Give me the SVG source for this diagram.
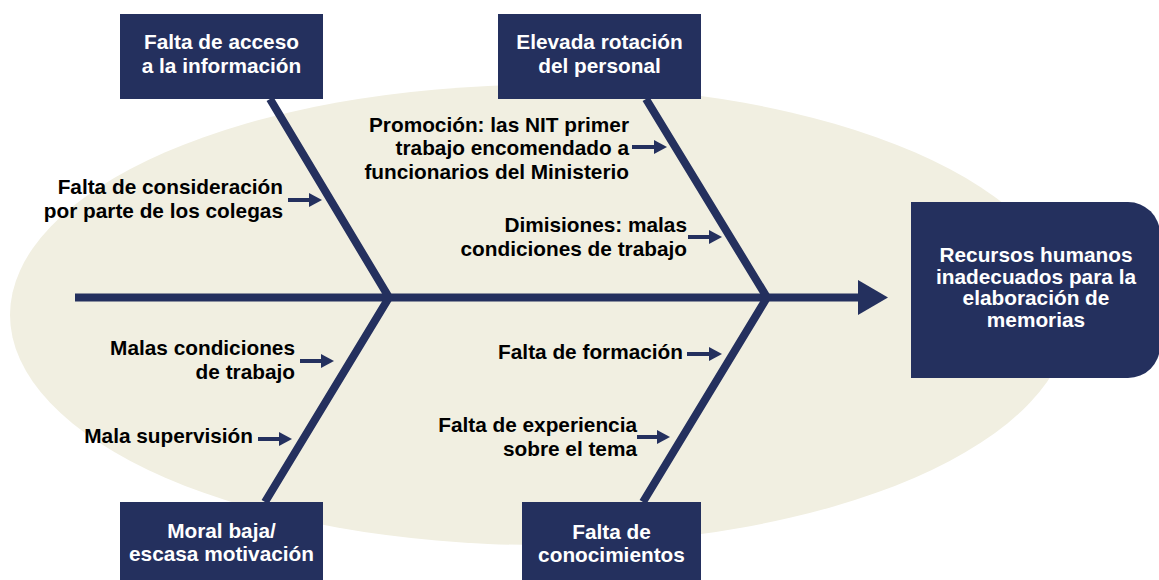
<svg xmlns="http://www.w3.org/2000/svg" width="1159" height="580" viewBox="0 0 1159 580">
  <style>
    .box { fill: #24305E; }
    .bt { font-family: "Liberation Sans", Arial, sans-serif; font-weight: bold; font-size: 20.8px; fill: #FFFFFF; text-anchor: middle; }
    .lb { font-family: "Liberation Sans", Arial, sans-serif; font-weight: bold; font-size: 20.8px; fill: #000000; text-anchor: end; }
    .bone { fill: none; stroke: #24305E; stroke-width: 8; stroke-linejoin: miter; stroke-miterlimit: 10; }
    .sm { stroke: #24305E; stroke-width: 4; marker-end: url(#ah); }
  </style>
  <defs>
    <marker id="ah" markerUnits="userSpaceOnUse" markerWidth="14" markerHeight="15" refX="0" refY="7" orient="auto" viewBox="0 0 14 14">
      <path d="M0,0 L13,7 L0,14 Z" fill="#24305E"/>
    </marker>
  </defs>
  <rect width="1159" height="580" fill="#FFFFFF"/>
  <ellipse cx="540" cy="315" rx="530" ry="230" fill="#F1EFE1"/>

  <g id="connectors">
    <line x1="75" y1="297.5" x2="860" y2="297.5" stroke="#24305E" stroke-width="8"/>
    <polygon points="858,280 888,297.5 858,315" fill="#24305E"/>
    <polyline class="bone" points="270,99 389,297.5 265,502"/>
    <polyline class="bone" points="646,99 767,297.5 643,502"/>
    <line class="sm" x1="288" y1="200" x2="309" y2="200"/>
    <line class="sm" x1="632" y1="147" x2="654" y2="147"/>
    <line class="sm" x1="688" y1="237" x2="709" y2="237"/>
    <line class="sm" x1="300" y1="361" x2="321" y2="361"/>
    <line class="sm" x1="258" y1="439" x2="279" y2="439"/>
    <line class="sm" x1="687" y1="354" x2="709" y2="354"/>
    <line class="sm" x1="637" y1="437" x2="657" y2="437"/>
  </g>

  <g id="node-acceso">
    <rect class="box" x="120" y="14" width="203" height="85"/>
    <text class="bt" x="221.5" y="49">Falta de acceso</text>
    <text class="bt" x="221.5" y="73">a la información</text>
  </g>
  <g id="node-rotacion">
    <rect class="box" x="498" y="14" width="203" height="85"/>
    <text class="bt" x="599.5" y="49">Elevada rotación</text>
    <text class="bt" x="599.5" y="73">del personal</text>
  </g>
  <g id="node-moral">
    <rect class="box" x="120" y="502" width="203" height="80"/>
    <text class="bt" x="221.5" y="538">Moral baja/</text>
    <text class="bt" x="221.5" y="561">escasa motivación</text>
  </g>
  <g id="node-conocimientos">
    <rect class="box" x="522" y="502" width="179" height="80"/>
    <text class="bt" x="611.5" y="539">Falta de</text>
    <text class="bt" x="611.5" y="562">conocimientos</text>
  </g>
  <g id="node-efecto">
    <path class="box" d="M911,202 H1128 A32,32 0 0 1 1160,234 V346 A32,32 0 0 1 1128,378 H911 Z"/>
    <text class="bt" x="1036" y="262">Recursos humanos</text>
    <text class="bt" x="1036" y="284">inadecuados para la</text>
    <text class="bt" x="1036" y="305">elaboración de</text>
    <text class="bt" x="1036" y="327">memorias</text>
  </g>

  <g id="label-consideracion">
    <text class="lb" x="283" y="194">Falta de consideración</text>
    <text class="lb" x="283" y="218">por parte de los colegas</text>
  </g>
  <g id="label-promocion">
    <text class="lb" x="629" y="132">Promoción: las NIT primer</text>
    <text class="lb" x="629" y="155">trabajo encomendado a</text>
    <text class="lb" x="629" y="179">funcionarios del Ministerio</text>
  </g>
  <g id="label-dimisiones">
    <text class="lb" x="687" y="232">Dimisiones: malas</text>
    <text class="lb" x="687" y="256">condiciones de trabajo</text>
  </g>
  <g id="label-malas">
    <text class="lb" x="295" y="355">Malas condiciones</text>
    <text class="lb" x="295" y="379">de trabajo</text>
  </g>
  <g id="label-supervision">
    <text class="lb" x="253" y="443">Mala supervisión</text>
  </g>
  <g id="label-formacion">
    <text class="lb" x="683" y="359">Falta de formación</text>
  </g>
  <g id="label-experiencia">
    <text class="lb" x="637" y="432">Falta de experiencia</text>
    <text class="lb" x="637" y="456">sobre el tema</text>
  </g>
</svg>
